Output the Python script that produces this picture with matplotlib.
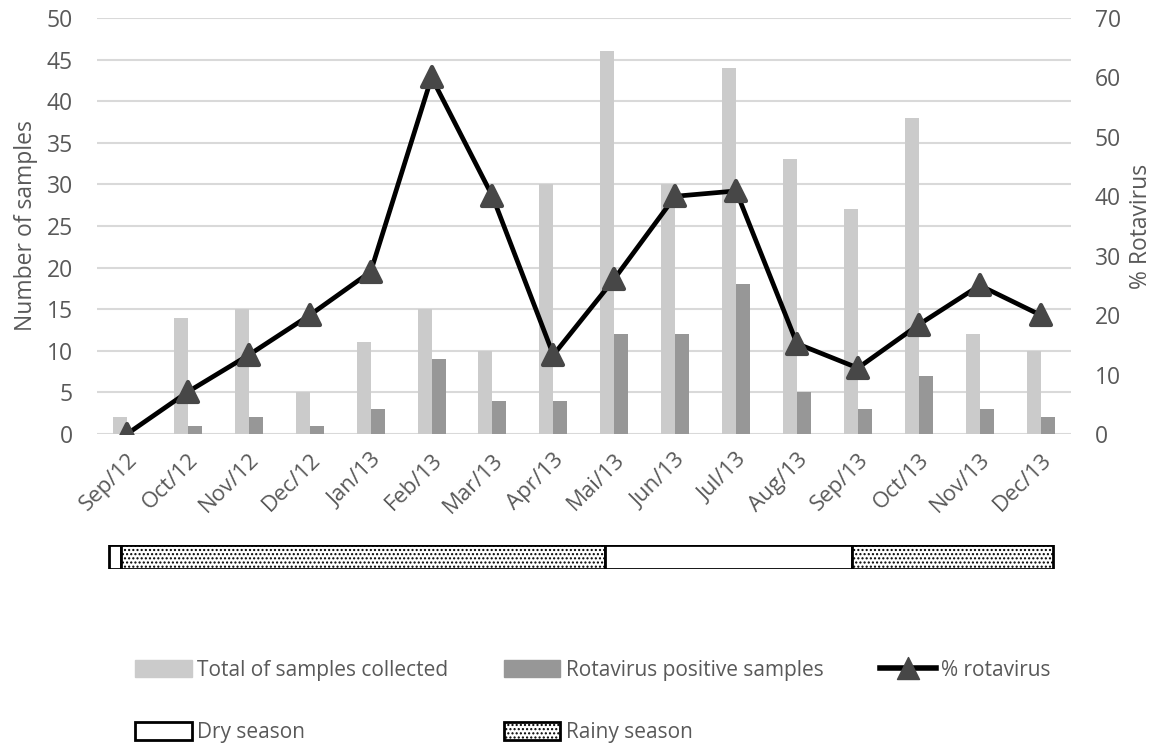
import numpy as np
import matplotlib
matplotlib.use("Agg")
import matplotlib.pyplot as plt
from matplotlib.patches import Patch
from matplotlib.lines import Line2D
from matplotlib.markers import MarkerStyle

months = ["Sep/12", "Oct/12", "Nov/12", "Dec/12", "Jan/13", "Feb/13", "Mar/13", "Apr/13",
          "Mai/13", "Jun/13", "Jul/13", "Aug/13", "Sep/13", "Oct/13", "Nov/13", "Dec/13"]
total_samples = [2, 14, 15, 5, 11, 15, 10, 30, 46, 30, 44, 33, 27, 38, 12, 10]
positive_samples = [0, 1, 2, 1, 3, 9, 4, 4, 12, 12, 18, 5, 3, 7, 3, 2]
pct_rotavirus = [0, 7.1, 13.3, 20.0, 27.3, 60.0, 40.0, 13.3, 26.1, 40.0, 40.9, 15.2, 11.1, 18.4, 25.0, 20.0]

# season strip, in month-index units
season_names = ["Dry", "Rainy", "Dry", "Rainy"]
season_start = [-0.3, -0.1, 7.85, 11.9]
season_end = [-0.1, 7.85, 11.9, 15.2]

TXT = "#595959"
LIGHT = "#cbcbcb"
DARK = "#979797"
MARK = "#474747"

plt.rcParams["font.family"] = ["Open Sans", "DejaVu Sans"]
plt.rcParams["hatch.linewidth"] = 1.0

fig = plt.figure(figsize=(11.68, 7.44), dpi=100)
ax = fig.add_axes([0.0827, 0.4167, 0.8343, 0.5591])
ax2 = ax.twinx()

x = np.arange(len(months))
w = 0.23
ax.bar(x - w / 2, total_samples, width=w, color=LIGHT, zorder=2)
ax.bar(x + w / 2, positive_samples, width=w, color=DARK, zorder=2)

ax.set_xlim(-0.5, len(months) - 0.5)
ax.set_ylim(0, 50)
ax.set_yticks(range(0, 51, 5))
ax.yaxis.grid(True, color="#d9d9d9", lw=1.5, zorder=0)
ax.set_axisbelow(True)
for sp in list(ax.spines.values()) + list(ax2.spines.values()):
    sp.set_visible(False)

tri = MarkerStyle("^", joinstyle="round")
ax2.plot(x, pct_rotavirus, color="black", lw=3.4, marker=tri, ms=14,
         mfc=MARK, mec=MARK, mew=3, zorder=5)
ax2.set_ylim(0, 70)
ax2.set_yticks(range(0, 71, 10))

ax.set_xticks(x)
ax.set_xticklabels(months, rotation=45, ha="right", va="top", rotation_mode="anchor")
ax.tick_params(axis="x", length=0, pad=11, labelsize=16, labelcolor=TXT)
ax.tick_params(axis="y", length=0, pad=17, labelsize=16.5, labelcolor=TXT)
ax2.tick_params(axis="y", length=0, pad=17, labelsize=16.5, labelcolor=TXT)
ax.set_ylabel("Number of samples", fontsize=16.5, color=TXT, labelpad=6)
ax2.set_ylabel("% Rotavirus", fontsize=16.5, color=TXT, labelpad=6)

# season strip under the chart
sax = fig.add_axes([0.0827, 0.2352, 0.8343, 0.0323])
sax.set_xlim(ax.get_xlim())
sax.set_ylim(0, 1)
for name, a, b in zip(season_names, season_start, season_end):
    hatch = "...." if name == "Rainy" else None
    sax.barh(0.5, b - a, left=a, height=1, color="white", edgecolor="black",
             lw=2, hatch=hatch)
sax.axis("off")

handles = [
    Patch(color=LIGHT, label="Total of samples collected"),
    Patch(facecolor="white", edgecolor="black", lw=2, label="Dry season"),
    Patch(color=DARK, label="Rotavirus positive samples"),
    Patch(facecolor="white", edgecolor="black", lw=2, hatch="....", label="Rainy season"),
    Line2D([], [], color="black", lw=4, marker=tri, ms=16, mfc=MARK, mec=MARK,
           label="% rotavirus"),
    Patch(color="none", label=""),
]
fig.legend(handles=handles, ncol=3, loc="lower left",
           bbox_to_anchor=(0.107, -0.013), frameon=False,
           fontsize=15, labelcolor=TXT, handlelength=2.7, handleheight=0.9,
           handletextpad=0.25, columnspacing=2.7, labelspacing=2.0, borderpad=0)

fig.savefig("out.png", dpi=100)
